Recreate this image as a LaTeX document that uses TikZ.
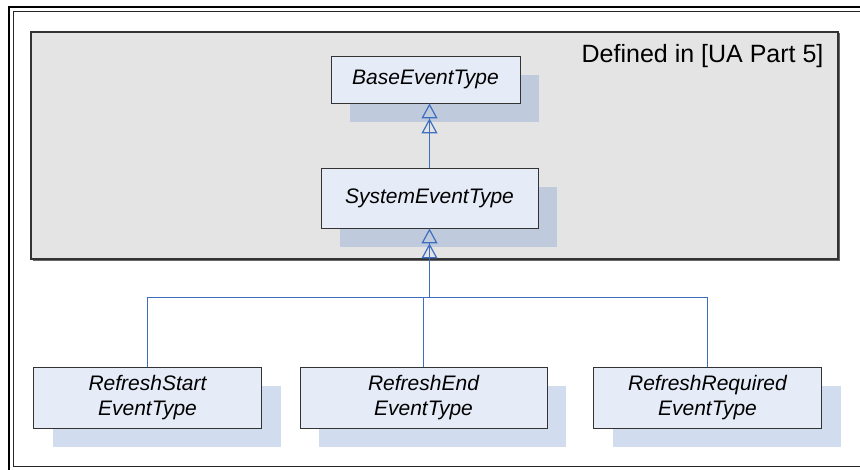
\documentclass[tikz,border=0pt]{standalone}
\usepackage{fontspec}
\setmainfont{Liberation Sans}
\usetikzlibrary{arrows.meta,shadows}
\definecolor{boxfill}{HTML}{E6ECF7}
\definecolor{pkgfill}{HTML}{E4E4E4}
\definecolor{shadein}{HTML}{BFCADD}
\definecolor{shadeout}{HTML}{D1DCEE}
\definecolor{linkblue}{HTML}{3E6FBF}
\tikzset{
  cls/.style={draw=black!80, line width=0.9pt, fill=boxfill, inner sep=0pt,
    align=center, font=\fontsize{21}{25}\selectfont\itshape},
  inshadow/.style={drop shadow={shadow xshift=19pt, shadow yshift=-19pt, fill=shadein, opacity=1}},
  outshadow/.style={drop shadow={shadow xshift=19pt, shadow yshift=-19pt, fill=shadeout, opacity=1}},
  link/.style={draw=linkblue, line width=1.2pt},
  gen/.style={link, -{Triangle[open,length=15pt,width=16pt]Triangle[open,length=15pt,width=16pt]}}
}

\begin{document}
\begin{tikzpicture}[x=1pt, y=-1pt]
		%%%%% START %%%%%
		\useasboundingbox (0,0) rectangle (860,470);
		% frame
		\draw[line width=2.6pt] (860,7) -- (9,7) -- (9,470);
		\draw[line width=1.2pt, color=black!85] (860,11.5) -- (13.5,11.5) -- (13.5,466.5) -- (860,466.5);

		% package
		\draw[line width=1.3pt, draw=black!80, fill=pkgfill] (31,32) rectangle (838,259);
		\draw[line width=0.8pt, draw=black!60] (32.5,260) -- (839,260) -- (839,33);
		\node[anchor=base east, font=\fontsize{25}{30}\selectfont] (title) at (827,63) {Defined in [UA Part 5]};

		\node[cls, inshadow, minimum width=189pt, minimum height=47pt] (base) at (425.5,79.5) {BaseEventType};
		\node[cls, inshadow, minimum width=217pt, minimum height=60pt] (system) at (429.5,198) {SystemEventType};

		\node[cls, outshadow, minimum width=228pt, minimum height=61pt] (start) at (147.5,397.5) {RefreshStart\\EventType};
		\node[cls, outshadow, minimum width=247pt, minimum height=61pt] (end) at (423.5,397.5) {RefreshEnd\\EventType};
		\node[cls, outshadow, minimum width=228pt, minimum height=61pt] (required) at (707.5,397.5) {RefreshRequired\\EventType};

		\draw[gen] (system.north) -- (system.north |- base.south);

		\coordinate (bus) at (429.5,297.5);
		\draw[gen] (bus) -- (system.south);
		\draw[link] (start.north) |- (bus);
		\draw[link] (required.north) |- (bus);
		\draw[link] (end.north) |- (bus);
		%%%%% END %%%%%
\end{tikzpicture}
\end{document}
